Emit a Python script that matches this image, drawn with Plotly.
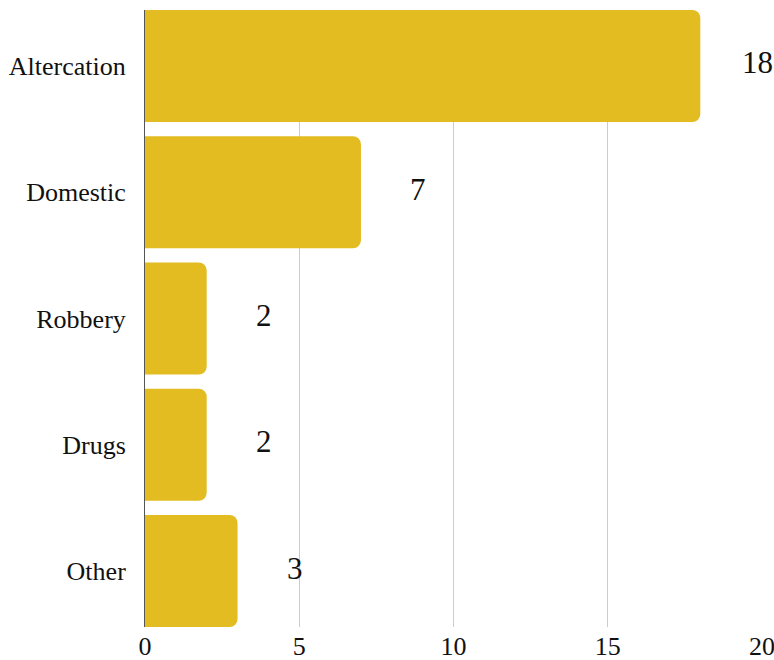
import plotly.graph_objects as go

categories = ["Altercation", "Domestic", "Robbery", "Drugs", "Other"]
values = [18, 7, 2, 2, 3]
x_ticks = [0, 5, 10, 15, 20]

color = "#E3BC22"
font_family = "Liberation Serif"
bar_width = 0.887

fig = go.Figure(
    go.Bar(
        y=categories,
        x=values,
        orientation="h",
        marker=dict(color=color, line=dict(width=0)),
        hoverinfo="skip",
    )
)

for c, v in zip(categories, values):
    fig.add_annotation(
        x=v, y=c, text=str(v), showarrow=False, xshift=57, yshift=3,
        font=dict(family=font_family, size=31, color="#111"),
        xanchor="center", yanchor="middle",
    )

fig.update_layout(
    width=774, height=660,
    margin=dict(l=145, r=12, t=10, b=33),
    paper_bgcolor="white", plot_bgcolor="white",
    bargap=1 - bar_width,
    barcornerradius=8,
    showlegend=False,
    font=dict(family=font_family, size=26, color="#111"),
)
fig.update_xaxes(
    range=[0, 20], tickvals=x_ticks, showgrid=True, gridcolor="#cccccc", gridwidth=1,
    zeroline=False, showline=False, ticks="", ticklabelstandoff=1,
    automargin=False, ticklabeloverflow="allow",
    tickfont=dict(family=font_family, size=26, color="#111"),
)
fig.update_yaxes(
    categoryorder="array", categoryarray=categories[::-1],
    range=[-bar_width / 2, len(categories) - 1 + bar_width / 2],
    showline=True, linecolor="#555555", linewidth=1, showgrid=False,
    ticks="", ticklabelstandoff=13, automargin=False,
    tickfont=dict(family=font_family, size=26, color="#111"),
)

fig.write_html(
    "out.html",
    config={"displayModeBar": False},
    post_script="document.body.style.margin='0';document.body.style.overflow='hidden';",
)
